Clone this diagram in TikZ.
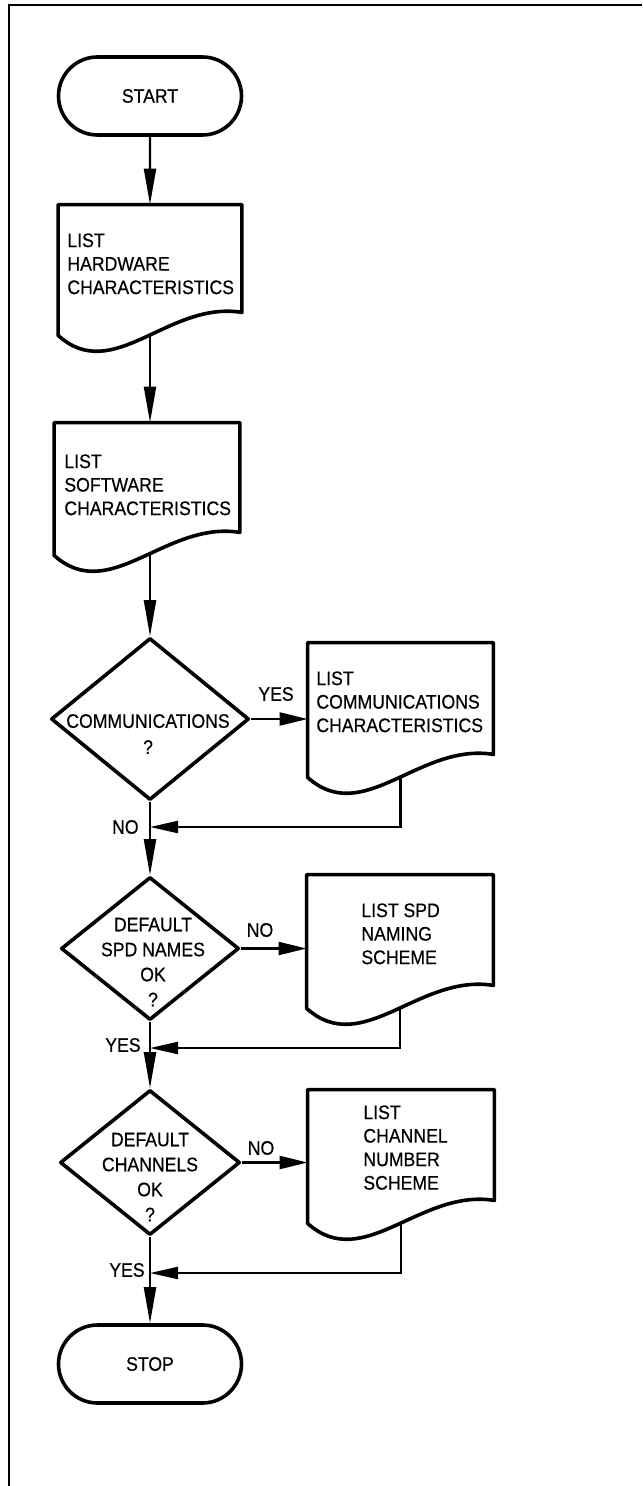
\documentclass[tikz,border=0pt]{standalone}
\usepackage{fontspec}
\setmainfont{Liberation Sans}[FakeStretch=0.9,FakeBold=0.5]
\usetikzlibrary{shapes.geometric,shapes.misc,arrows.meta,calc}

\tikzset{
  px/.style={x=0.5pt,y=-0.5pt},
  shapeline/.style={draw=black, line width=1.8pt, line join=round},
  term/.style={rounded rectangle, shapeline, minimum width=91.5pt, minimum height=39pt, inner sep=0pt},
  docarea/.style={rectangle, draw=none, inner sep=0pt},
  decision/.style={diamond, shapeline, inner sep=0pt},
  doctext/.style={align=left, inner sep=0pt, anchor=north west, font=\fontsize{9.8}{11.75}\selectfont},
  dectext/.style={align=center, inner sep=0pt, font=\fontsize{9.8}{12.5}\selectfont},
  lbl/.style={inner sep=0pt},
  vflow/.style={draw=black, line width=1.1pt, -{Triangle[length=18pt,width=6pt]}},
  hflow/.style={draw=black, line width=1.1pt, -{Triangle[length=14pt,width=6.5pt]}},
  retline/.style={draw=black, line width=1.1pt, -{Triangle[length=14pt,width=6pt]}},
  frameline/.style={draw=black, line width=1.2pt},
}

\newcommand\docoutline[1]{%
  \draw[shapeline] (#1.south west) -- (#1.north west) -- (#1.north east) -- ([shift={(0,-23)}]#1.south east)
    .. controls ($(#1.south west)!0.6!(#1.south east)+(0,-35)$) and ($(#1.south west)!0.3!(#1.south east)+(0,50)$) .. (#1.south west) -- cycle;}

\begin{document}
\begin{tikzpicture}[px, font=\fontsize{9.8}{11.75}\selectfont]
\useasboundingbox (0,0) rectangle (642,1486);

% frame
\coordinate (ftl) at (9,5);
\coordinate (ftr) at (642,5);
\coordinate (fbl) at (9,1486);
\draw[frameline] (ftr) -- (ftl) -- (fbl);

% nodes
\node[term] (start) at (150,96) {START};
\node[docarea, minimum width=91.5pt, minimum height=65pt] (hw) at (150,270) {};
\node[docarea, minimum width=92.5pt, minimum height=66pt] (sw) at (147,489) {};
\node[decision, minimum width=99pt, minimum height=81pt] (d1) at (150,719) {};
\node[docarea, minimum width=92.5pt, minimum height=67pt] (comm) at (400.5,710) {};
\node[decision, minimum width=89pt, minimum height=71.5pt] (d2) at (150,948.5) {};
\node[docarea, minimum width=93pt, minimum height=66.5pt] (spd) at (400,941.5) {};
\node[decision, minimum width=90pt, minimum height=72.5pt] (d3) at (150,1162.5) {};
\node[docarea, minimum width=93pt, minimum height=66.5pt] (chan) at (401,1156.5) {};
\node[term] (stop) at (150,1364) {STOP};

\docoutline{hw}
\docoutline{sw}
\docoutline{comm}
\docoutline{spd}
\docoutline{chan}

% texts
\node[doctext] (hwt) at (67,233) {LIST\\HARDWARE\\CHARACTERISTICS};
\node[doctext] (swt) at (64,454) {LIST\\SOFTWARE\\CHARACTERISTICS};
\node[doctext] (commt) at (316,671) {LIST\\COMMUNICATIONS\\CHARACTERISTICS};
\node[doctext] (spdt) at (361,903) {LIST SPD\\NAMING\\SCHEME};
\node[doctext] (chant) at (363,1105) {LIST\\CHANNEL\\NUMBER\\SCHEME};

\node[dectext, font=\fontsize{9.8}{13}\selectfont] (d1t) at (148,734) {COMMUNICATIONS\\?};
\node[dectext] (d2t) at (153,962) {DEFAULT\\SPD NAMES\\OK\\?};
\node[dectext] (d3t) at (150,1177) {DEFAULT\\CHANNELS\\OK\\?};

% junctions
\coordinate (j1) at (150,827);
\coordinate (j2) at (150,1048);
\coordinate (j3) at (150,1273);

% main flow
\draw[vflow] (start) -- (hw);
\draw[vflow] (hw.south) -- (hw.south |- sw.north);
\draw[vflow] (d1.north |- sw.south) -- (d1.north);
\draw[vflow] (d1.south) -- (d2.north);
\draw[vflow] (d2.south) -- (d3.north);
\draw[vflow] (d3.south) -- (stop.north);

% branches
\draw[hflow] (d1.east) -- (d1.east -| comm.west);
\draw[hflow] (d2.east) -- (d2.east -| spd.west);
\draw[hflow] (d3.east) -- (d3.east -| chan.west);

% returns
\draw[retline] (comm.south) |- (j1);
\draw[retline] (spd.south) |- (j2);
\draw[retline] (chan.south) |- (j3);

% labels
\node[lbl] (yes1) at (276,694) {YES};
\node[lbl] (no2) at (260,930) {NO};
\node[lbl] (no3) at (261,1148) {NO};
\node[lbl, anchor=east] (no1) at (139,827) {NO};
\node[lbl, anchor=east] (yes2) at (141,1045) {YES};
\node[lbl, anchor=east] (yes3) at (145,1270) {YES};
\end{tikzpicture}
\end{document}
